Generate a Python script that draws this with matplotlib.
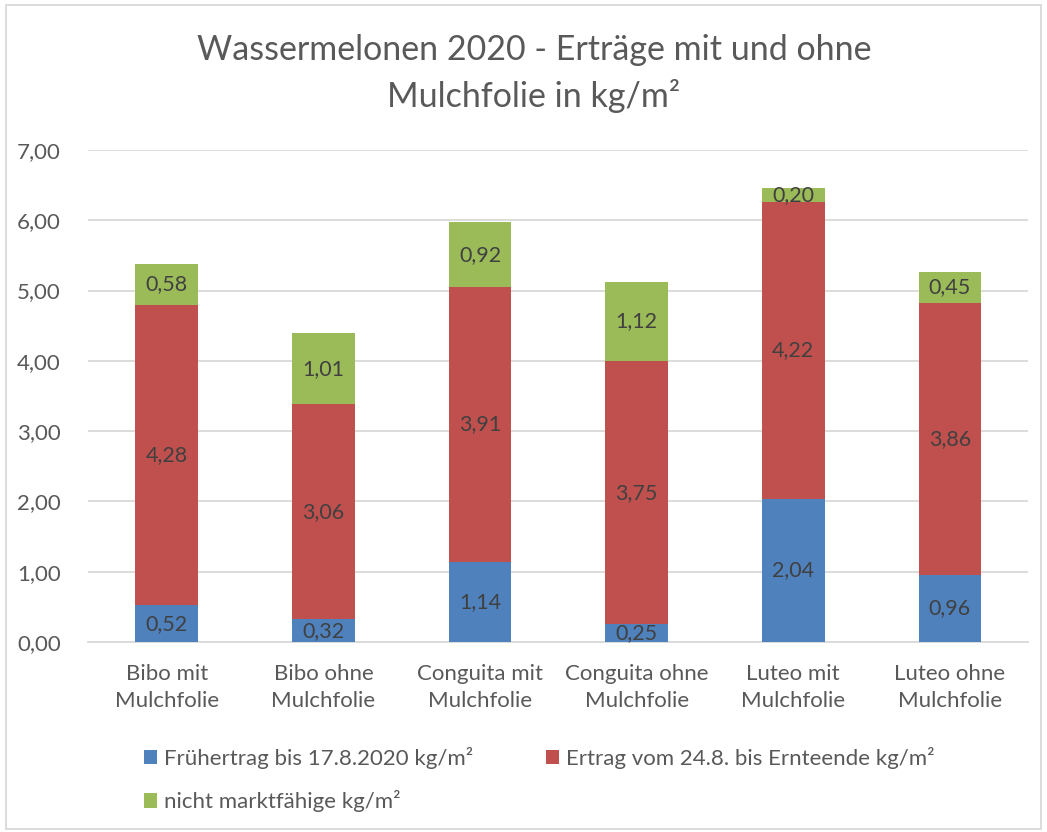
import numpy as np
import matplotlib.pyplot as plt
from matplotlib.patches import Rectangle

plt.rcParams['font.family'] = ['Lato', 'DejaVu Sans']

categories = ["Bibo mit\nMulchfolie", "Bibo ohne\nMulchfolie", "Conguita mit\nMulchfolie",
              "Conguita ohne\nMulchfolie", "Luteo mit\nMulchfolie", "Luteo ohne\nMulchfolie"]
frueh = [0.52, 0.32, 1.14, 0.25, 2.04, 0.96]
ertrag = [4.28, 3.06, 3.91, 3.75, 4.22, 3.86]
nicht = [0.58, 1.01, 0.92, 1.12, 0.20, 0.45]
series_names = ["Frühertrag bis 17.8.2020 kg/m²",
                "Ertrag vom 24.8. bis Ernteende kg/m²",
                "nicht marktfähige kg/m²"]
colors = ["#4F81BD", "#C0504D", "#9BBB59"]
yticks = [0, 1, 2, 3, 4, 5, 6, 7]

fig = plt.figure(figsize=(10.47, 8.32), dpi=100)
ax = fig.add_axes([0.0845, 0.2284, 0.8975, 0.5913])

x = np.arange(len(categories))
bottom = np.zeros(len(categories))
handles = []
for vals, name, col in zip([frueh, ertrag, nicht], series_names, colors):
    bars = ax.bar(x, vals, width=0.4, bottom=bottom, color=col, label=name, zorder=3)
    handles.append(bars)
    for xi, b, v in zip(x, bottom, vals):
        ax.text(xi, b + v / 2, f"{v:.2f}".replace(".", ","), ha="center", va="center",
                fontsize=15.5, color="#404040", zorder=4)
    bottom = bottom + np.array(vals)

ax.set_xlim(-0.5, len(categories) - 0.5)
ax.set_ylim(0, 7)
ax.set_yticks(yticks)
ax.set_yticklabels([f"{t:.2f}".replace(".", ",") for t in yticks])
ax.set_xticks(x)
ax.set_xticklabels(categories, linespacing=1.45)
ax.tick_params(length=0, labelsize=16, colors="#595959")
ax.tick_params(axis="x", pad=16)
ax.tick_params(axis="y", pad=20)
ax.grid(axis="y", color="#D9D9D9", linewidth=1.3, zorder=0)
for s in ["top", "right", "left"]:
    ax.spines[s].set_visible(False)
ax.spines["bottom"].set_color("#D9D9D9")
ax.spines["bottom"].set_linewidth(1.3)

fig.text(0.51, 0.912, "Wassermelonen 2020 - Erträge mit und ohne\nMulchfolie in kg/m²",
         ha="center", va="center", fontsize=24.5, color="#595959", linespacing=1.45)

leg = fig.legend([handles[0], handles[2], handles[1]],
                 [series_names[0], series_names[2], series_names[1]],
                 ncol=2, loc="upper left", bbox_to_anchor=(0.118, 0.126),
                 frameon=False, fontsize=16, handlelength=0.6, handleheight=0.6,
                 handletextpad=0.3, columnspacing=3.3, labelspacing=0.95)
for t in leg.get_texts():
    t.set_color("#595959")

fig.patches.append(Rectangle((0.006, 0.004), 0.988, 0.99, transform=fig.transFigure,
                             fill=False, edgecolor="#D9D9D9", linewidth=1.3))

fig.savefig("out.png", dpi=100)
